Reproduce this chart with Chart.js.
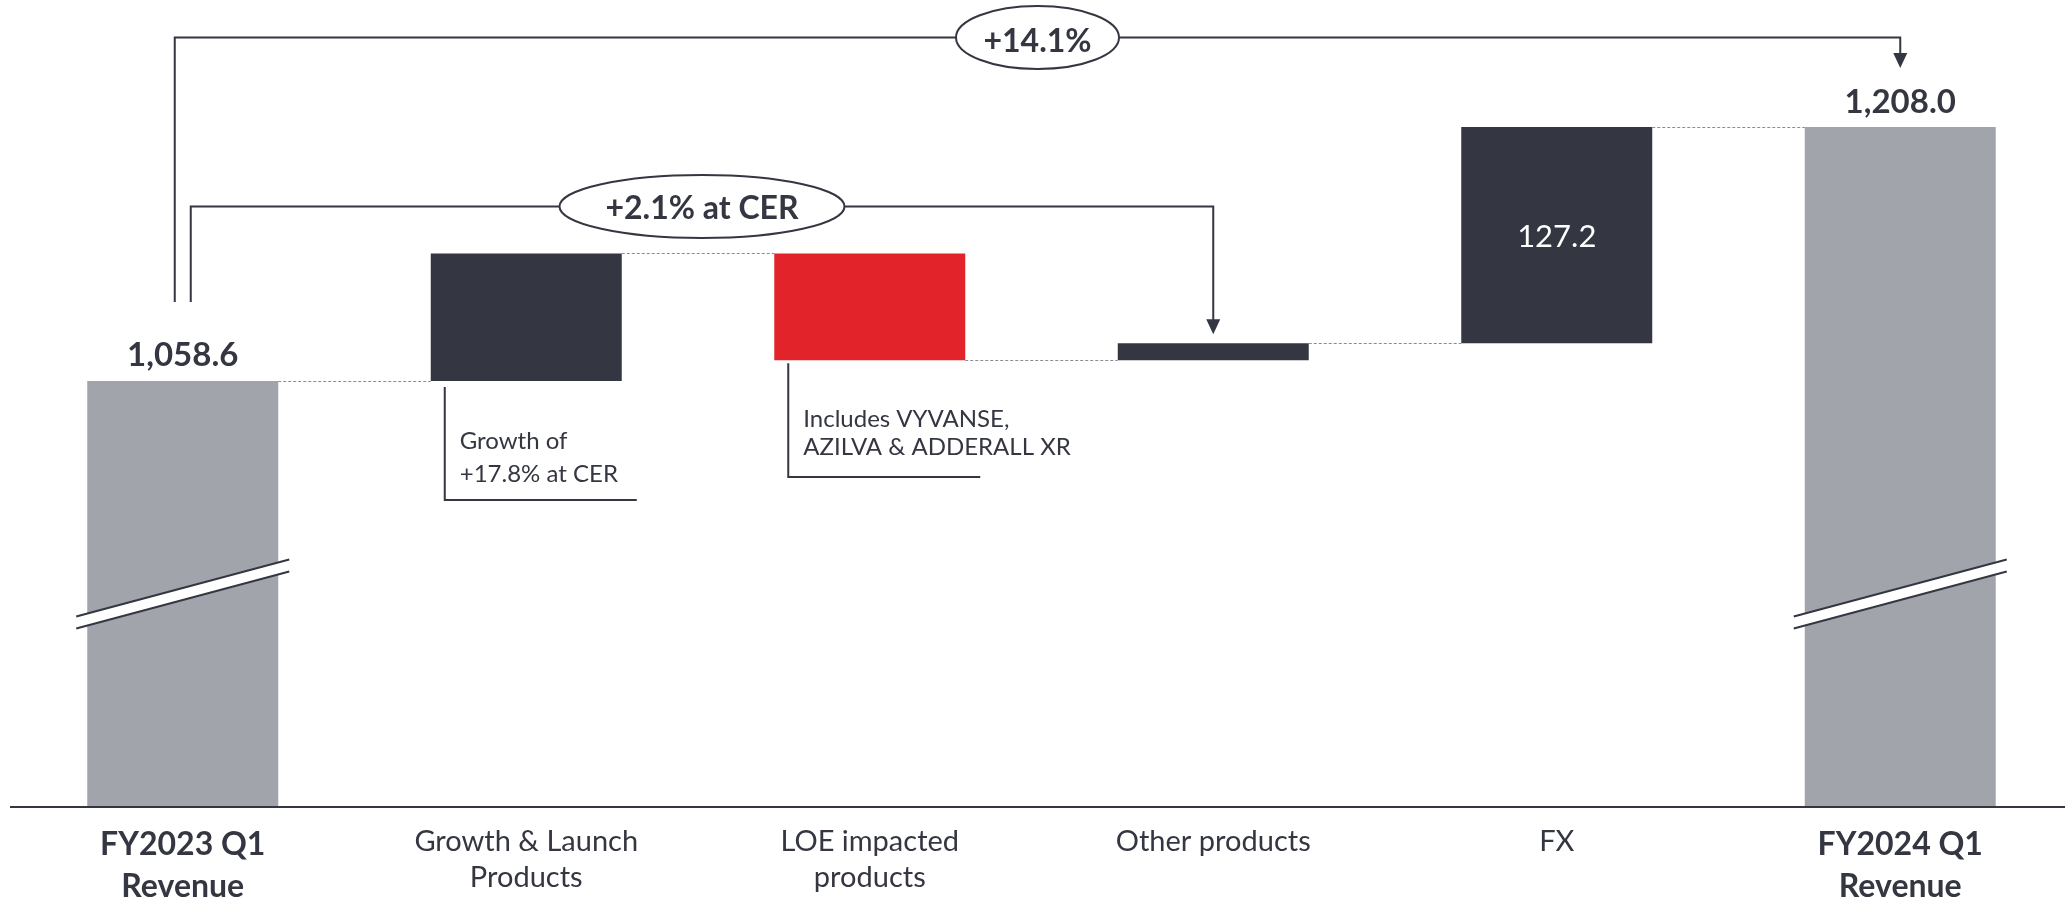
<!DOCTYPE html>
<html lang="en">
<head>
<meta charset="UTF-8">
<title>Revenue bridge FY2023 Q1 - FY2024 Q1</title>
<script src="https://cdn.jsdelivr.net/npm/chart.js"></script>
<style>
  html, body { margin: 0; padding: 0; background: #fff; overflow: hidden; }
  canvas { display: block; }
</style>
</head>
<body>
<canvas id="bridge" width="2072" height="903"></canvas>
<script>
const categories = [['FY2023 Q1', 'Revenue'], ['Growth & Launch', 'Products'], ['LOE impacted', 'products'], 'Other products', 'FX', ['FY2024 Q1', 'Revenue']];
const startRevenue = 1058.6;
const changes = [75.0, -62.8, 10.0, 127.2];   // growth & launch, LOE, other, FX
const endRevenue = 1208.0;
const totalGrowth = '+14.1%';
const cerGrowth = '+2.1% at CER';
const notes = [['Growth of', '+17.8% at CER'], ['Includes VYVANSE,', 'AZILVA & ADDERALL XR']];

const DARK = '#343741', GREY = '#a2a4ab', RED = '#e2232a';
const FONT = 'Lato, "Open Sans", sans-serif';

// running levels; totals stand on the axis, steps float between levels
const levels = [startRevenue];
changes.forEach(c => levels.push(+(levels[levels.length - 1] + c).toFixed(1)));
const bars = [[0, startRevenue]];
changes.forEach((c, i) => bars.push([levels[i], levels[i + 1]]));
bars.push([0, endRevenue]);
const colors = [GREY, ...changes.map(c => c < 0 ? RED : DARK), GREY];

const fmt = v => v.toLocaleString('en-US', { minimumFractionDigits: 1, maximumFractionDigits: 1 });
const isTotal = i => i === 0 || i === categories.length - 1;

const bridgeDecor = {
  id: 'bridgeDecor',
  afterDatasetsDraw(chart) {
    const { ctx } = chart;
    const y = chart.scales.y;
    const m = chart.getDatasetMeta(0).data;
    const left = i => m[i].x - m[i].width / 2;
    const right = i => m[i].x + m[i].width / 2;
    const top = i => Math.min(m[i].y, m[i].base);
    const bottom = i => Math.max(m[i].y, m[i].base);
    ctx.save();

    // dashed connectors between consecutive bars
    ctx.strokeStyle = '#8a8c92';
    ctx.lineWidth = 1.2;
    ctx.setLineDash([3, 2]);
    for (let i = 0; i < 5; i++) {
      const yy = Math.round(y.getPixelForValue(levels[i])) + 0.5;
      ctx.beginPath();
      ctx.moveTo(right(i), yy);
      ctx.lineTo(left(i + 1), yy);
      ctx.stroke();
    }
    ctx.setLineDash([]);

    // axis break on the two total bars
    [0, 5].forEach(i => {
      const x0 = left(i) - 11, x1 = right(i) + 11;
      const cy = 594, drop = 28.5, gap = 6;
      ctx.fillStyle = '#fff';
      ctx.beginPath();
      ctx.moveTo(x0, cy + drop - gap);
      ctx.lineTo(x1, cy - drop - gap);
      ctx.lineTo(x1, cy - drop + gap);
      ctx.lineTo(x0, cy + drop + gap);
      ctx.closePath();
      ctx.fill();
      ctx.strokeStyle = DARK;
      ctx.lineWidth = 2;
      [-gap, gap].forEach(g => {
        ctx.beginPath();
        ctx.moveTo(x0, cy + drop + g);
        ctx.lineTo(x1, cy - drop + g);
        ctx.stroke();
      });
    });

    // value labels
    ctx.textAlign = 'center';
    ctx.textBaseline = 'alphabetic';
    ctx.fillStyle = DARK;
    ctx.font = `bold 33px ${FONT}`;
    ctx.fillText(fmt(startRevenue), m[0].x, top(0) - 15);
    ctx.fillText(fmt(endRevenue), m[5].x, top(5) - 14);
    ctx.fillStyle = '#fff';
    ctx.font = `31px ${FONT}`;
    ctx.fillText(fmt(changes[3]), m[4].x, (top(4) + bottom(4)) / 2 + 12);

    // callouts under the growth and LOE bars
    ctx.strokeStyle = DARK;
    ctx.lineWidth = 2;
    ctx.textAlign = 'left';
    ctx.fillStyle = DARK;
    ctx.font = `24px ${FONT}`;
    const callouts = [
      { bar: 1, gapTop: 6, lineEnd: 500, baselines: [449, 482] },
      { bar: 2, gapTop: 3, lineEnd: 477, baselines: [427, 455] }
    ];
    callouts.forEach((c, k) => {
      const vx = left(c.bar) + 14;
      ctx.beginPath();
      ctx.moveTo(vx, bottom(c.bar) + c.gapTop);
      ctx.lineTo(vx, c.lineEnd);
      ctx.lineTo(vx + 192, c.lineEnd);
      ctx.stroke();
      notes[k].forEach((t, j) => ctx.fillText(t, vx + 15, c.baselines[j]));
    });

    // brackets with growth ovals
    const arrow = (ax, tip) => {
      ctx.beginPath();
      ctx.moveTo(ax - 7, tip - 15);
      ctx.lineTo(ax + 7, tip - 15);
      ctx.lineTo(ax, tip);
      ctx.closePath();
      ctx.fill();
    };
    const oval = (cx, cy, rx, ry, text, size, drop) => {
      ctx.beginPath();
      ctx.ellipse(cx, cy, rx, ry, 0, 0, Math.PI * 2);
      ctx.fillStyle = '#fff';
      ctx.fill();
      ctx.stroke();
      ctx.fillStyle = DARK;
      ctx.textAlign = 'center';
      ctx.font = `bold ${size}px ${FONT}`;
      ctx.fillText(text, cx, cy + drop);
    };
    const bracket = (ax, bx, levelY, startY, tip, text, rx, size, drop) => {
      ctx.strokeStyle = DARK;
      ctx.fillStyle = DARK;
      ctx.lineWidth = 2;
      ctx.beginPath();
      ctx.moveTo(ax, startY);
      ctx.lineTo(ax, levelY);
      ctx.lineTo(bx, levelY);
      ctx.lineTo(bx, tip - 14);
      ctx.stroke();
      arrow(bx, tip);
      oval((ax + bx) / 2, levelY, rx, 31.5, text, size, drop);
    };
    bracket(m[0].x - 8, m[5].x, 37.5, top(0) - 79, top(5) - 59, totalGrowth, 81.5, 32, 14);
    bracket(m[0].x + 8, m[3].x, 206.5, top(0) - 79, top(3) - 9, cerGrowth, 142.5, 32, 12);

    ctx.restore();
  }
};

new Chart(document.getElementById('bridge'), {
  type: 'bar',
  data: {
    labels: categories,
    datasets: [{
      data: bars,
      backgroundColor: colors,
      borderWidth: 0,
      barPercentage: 0.556,
      categoryPercentage: 1,
      clip: 0
    }]
  },
  options: {
    responsive: false,
    animation: false,
    layout: { padding: { left: 11, right: 0, top: 0, bottom: 0 } },
    plugins: { legend: { display: false }, tooltip: { enabled: false } },
    scales: {
      x: {
        grid: { display: false, drawTicks: false },
        border: { display: true, color: DARK, width: 2, z: 1 },
        ticks: {
          padding: 17,
          maxRotation: 0,
          autoSkip: false,
          color: DARK,
          // the two revenue totals are set larger and bold
          font: ctx => isTotal(ctx.index)
            ? { family: FONT, size: 32, lineHeight: 1.31, weight: 'bold' }
            : { family: FONT, size: 29, lineHeight: 1.241, weight: 'normal' }
        },
        afterFit: scale => { scale.height = 96; }
      },
      y: { display: false, min: 808, max: 1282.7 }
    }
  },
  plugins: [bridgeDecor]
});
</script>
</body>
</html>
